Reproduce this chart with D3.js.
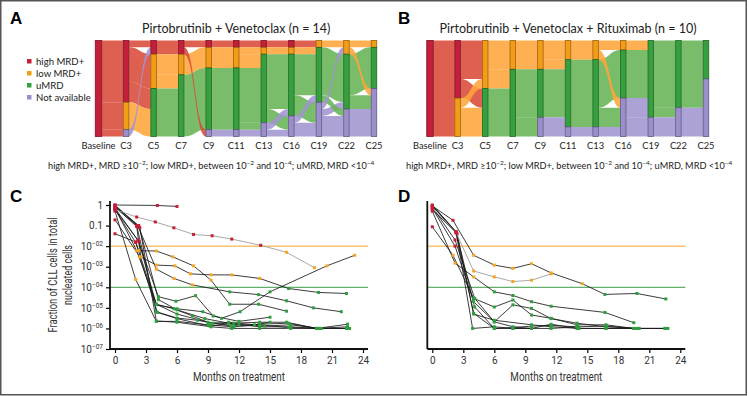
<!DOCTYPE html>
<html>
<head>
<meta charset="utf-8">
<script src="https://cdn.jsdelivr.net/npm/d3@7"></script>
<style>
  body { margin: 0; background: #fff; }
  svg { display: block; }
</style>
</head>
<body>
<script>
const width = 749, height = 396;

// ---- sankey data ----
const states = ['high MRD+', 'low MRD+', 'uMRD', 'Not available'];
const nodeColors = ['#c41e3a', '#f39c16', '#36a03e', '#9a8fcb'];
const flowColors = ['#d94a38', '#ffa53a', '#67b354', '#a195d0'];
const timepoints = ['Baseline', 'C3', 'C5', 'C7', 'C9', 'C11', 'C13', 'C16', 'C19', 'C22', 'C25'];

// transitions between consecutive timepoints: [from state, to state, patients]
const flowsA = [
  [[0, 0, 9], [0, 1, 4], [0, 3, 1]],
  [[0, 0, 1], [0, 1, 5], [0, 2, 3], [1, 2, 4], [3, 0, 1]],
  [[0, 0, 2], [1, 1, 3], [1, 2, 2], [2, 2, 7]],
  [[0, 0, 1], [0, 3, 1], [1, 1, 3], [2, 2, 9]],
  [[0, 0, 1], [1, 1, 3], [2, 2, 9], [3, 3, 1]],
  [[0, 0, 1], [1, 1, 1], [1, 2, 2], [2, 2, 8], [2, 3, 1], [3, 3, 1]],
  [[0, 0, 1], [1, 1, 1], [2, 2, 8], [2, 3, 2], [3, 2, 1], [3, 3, 1]],
  [[0, 1, 1], [1, 2, 1], [2, 2, 6], [2, 3, 3], [3, 2, 1], [3, 3, 2]],
  [[1, 1, 1], [2, 2, 7], [2, 3, 1], [3, 1, 1], [3, 2, 1], [3, 3, 3]],
  [[1, 1, 1], [1, 3, 1], [2, 2, 6], [2, 3, 2], [3, 3, 4]]
];
const flowsB = [
  [[0, 0, 6], [0, 1, 4]],
  [[0, 1, 4], [0, 2, 2], [1, 1, 1], [1, 2, 3]],
  [[1, 1, 3], [1, 2, 2], [2, 2, 5]],
  [[1, 1, 3], [2, 2, 5], [2, 3, 2]],
  [[1, 1, 2], [1, 2, 1], [2, 2, 5], [3, 2, 1], [3, 3, 1]],
  [[1, 1, 2], [2, 2, 7], [3, 3, 1]],
  [[1, 1, 1], [1, 3, 1], [2, 2, 5], [2, 3, 2], [3, 3, 1]],
  [[1, 2, 1], [2, 2, 5], [3, 2, 2], [3, 3, 2]],
  [[2, 2, 7], [2, 3, 1], [3, 3, 2]],
  [[2, 2, 4], [2, 3, 3], [3, 3, 3]]
];

// ---- MRD kinetics data: [month, fraction of CLL cells] per patient ----
const monthTicks = [0, 3, 6, 9, 12, 15, 18, 21, 24];
const mrdTicks = [1, 1e-1, 1e-2, 1e-3, 1e-4, 1e-5, 1e-6, 1e-7];
const thresholds = [1e-2, 1e-4];

const patientsC = [
  [[0, 1], [4.1, 0.95], [6, 0.85]],
  [[0, 0.6], [2.1, 0.26], [3.9, 0.15], [5.7, 0.078], [7.6, 0.037], [9.4, 0.032], [11.3, 0.022], [14.1, 0.011], [16.6, 0.005], [19.3, 0.0009]],
  [[0, 0.04], [2, 0.016], [2.3, 0.006], [4, 0.0058], [5.6, 0.003], [7.6, 0.0011], [9.3, 0.00022], [11.1, 1.5e-5], [13.9, 1.5e-5], [16.6, 6.9e-6]],
  [[0, 0.8], [2.1, 0.09], [2.5, 0.003], [4, 0.0012], [5.8, 0.0011], [7.3, 0.00045], [9.3, 0.0004], [11.3, 0.0004], [14, 0.00027], [16.8, 8.7e-5], [19.7, 5.6e-5], [22.4, 5e-5]],
  [[0, 0.5], [2, 0.00024], [4, 2.2e-6], [6, 2.2e-6], [9, 1.5e-6], [11.5, 1.2e-6], [14, 1.5e-6], [16.8, 1.1e-6], [19.5, 1e-6], [22.5, 1e-6]],
  [[0, 0.9], [2.2, 0.1], [4, 0.00076], [5.7, 0.00027], [7.5, 0.00013], [11.1, 6e-5], [13.9, 4.4e-5], [16.6, 2.2e-5], [19.2, 1e-5], [21.9, 6.5e-6]],
  [[0, 0.7], [2.3, 0.017], [4, 1.4e-5], [6, 9e-6], [8.5, 6.5e-6], [10.3, 3.1e-6], [12.1, 6.5e-6], [15, 6e-5], [20.5, 0.0011], [23.2, 0.0036]],
  [[0, 0.6], [2.2, 0.02], [4.2, 3.5e-5], [5.9, 2.1e-5], [7.8, 3.9e-5], [9.5, 4e-6], [12, 2.2e-6], [15, 3.5e-6]],
  [[0, 0.8], [2.1, 0.1], [4, 6.5e-6], [6, 3.2e-6], [8, 2.5e-6], [9.5, 1.8e-6], [11.2, 1.3e-6], [14, 1.6e-6], [16.8, 1.8e-6], [19.5, 1e-6], [22.5, 1.6e-6]],
  [[0, 1], [2.4, 0.08], [4, 2.3e-6], [6, 2e-6], [9.3, 1.2e-6], [11.3, 1e-6], [14, 1e-6], [17, 1e-6], [20, 1e-6], [22.7, 1e-6]],
  [[0, 0.6], [2, 0.015], [4, 1.5e-5], [5.7, 9e-6], [7.5, 4e-6], [9.3, 1.7e-6], [11, 2e-6], [13.5, 1.5e-6], [15, 2e-6]],
  [[0, 0.9], [2.3, 0.1], [4.2, 2.5e-5], [6, 8e-6], [8.7, 3e-6], [11, 1.8e-6], [14, 1.2e-6], [17, 1.2e-6], [19.7, 1e-6], [22.4, 1e-6]],
  [[0, 0.7], [2.1, 0.006], [4, 1.5e-5], [6, 5e-6], [9, 2e-6], [12, 1.5e-6], [14.5, 1.3e-6], [17, 1.5e-6], [19.8, 1e-6]],
  [[0, 0.19], [2.4, 0.003], [4.1, 6e-6], [6, 3e-6], [9.2, 1.3e-6], [11.5, 1.8e-6], [14, 2e-6], [16.6, 2e-6], [19.5, 1e-6], [22.5, 1.2e-6]]
];
const grayC = [1];

const patientsD = [
  [[0, 0.9], [2, 0.18], [4, 0.0036], [6, 0.0012], [7.8, 0.00083], [9.6, 0.0014], [11.5, 0.0005], [14.5, 0.00015], [16.7, 4.5e-5], [19.8, 5e-5], [22.6, 2.7e-5]],
  [[0, 0.7], [2.3, 0.045], [4, 0.00062], [6, 0.00032], [7.8, 0.00019], [9.6, 0.00022], [11.5, 0.00045]],
  [[0, 0.5], [2.2, 0.0015], [4, 0.00032], [6, 6e-5], [7.8, 4e-5], [9.6, 2e-5], [11.5, 1.2e-5], [16.7, 6e-6], [19.5, 1.9e-6]],
  [[0, 0.087], [2, 0.0036], [4, 2.9e-5], [6, 1.1e-5], [7.8, 2.4e-5], [9.6, 4.5e-6], [11.5, 3.1e-6], [14, 1.5e-6], [16.8, 1.5e-6], [19.5, 1e-6]],
  [[0, 0.6], [2.3, 0.045], [4, 5.4e-6], [6, 1e-6], [7.8, 1e-6], [9.6, 1e-6], [11.5, 1.6e-6], [14, 1e-6], [16.8, 1e-6], [20, 1e-6], [22.8, 1e-6]],
  [[0, 1], [2.3, 0.05], [3.9, 1e-6], [6, 1.2e-6], [7.8, 1e-6], [9.6, 1e-6], [11.5, 1e-6], [14.1, 1.2e-6], [16.8, 1.3e-6], [19.5, 1e-6], [22.5, 1e-6]],
  [[0, 0.8], [2.2, 0.02], [4.1, 2.9e-5], [6, 2.1e-6], [7.8, 1.4e-5], [9.6, 9.4e-6], [11.5, 3e-6], [14, 1.8e-6], [16.8, 1.2e-6], [20, 1e-6]],
  [[0, 0.9], [2.4, 0.04], [4, 5e-6], [6, 2.5e-6], [9.6, 1.5e-6], [11.5, 1.2e-6], [14.2, 1e-6], [16.8, 1e-6], [19.8, 1e-6], [22.6, 1e-6]],
  [[0, 0.7], [2.2, 0.01], [4, 2e-5], [6, 2.1e-6], [7.8, 1.2e-6], [9.6, 1e-6]],
  [[0, 0.95], [2.3, 0.05], [4.1, 1.1e-5], [6, 1e-6], [7.8, 1.1e-6], [9.6, 1.3e-6], [11.5, 1.4e-6], [14, 1.2e-6]]
];
const grayD = [1];

const sansFont = 'Lato, "Open Sans", sans-serif';
const narrowFont = 'Roboto, "Liberation Sans", sans-serif';

const svg = d3.select('body').append('svg')
  .attr('width', width).attr('height', height)
  .style('font-family', sansFont);

svg.append('rect')
  .attr('x', 0.75).attr('y', 0.75)
  .attr('width', width - 3.5).attr('height', height - 2)
  .attr('fill', 'none').attr('stroke', '#555').attr('stroke-width', 1.5);

// panel letters
[['A', 10, 24], ['B', 398, 24], ['C', 10, 202], ['D', 398, 202]].forEach(([t, x, y]) => {
  svg.append('text').attr('x', x).attr('y', y)
    .attr('font-size', 17).attr('font-weight', 'bold')
    .attr('font-family', '"Liberation Sans", Arial, sans-serif')
    .text(t);
});

function sankey(flows, n, x0, x1, title) {
  const g = svg.append('g');
  const x = d3.scalePoint().domain(timepoints).range([x0, x1]);
  const y = d3.scaleLinear().domain([0, n]).range([40.5, 136.5]);

  // patients per state at each timepoint
  const counts = timepoints.map(() => [0, 0, 0, 0]);
  flows.forEach((step, i) => step.forEach(([a, b, v]) => {
    counts[i + 1][b] += v;
    if (i === 0) counts[0][a] += v;
  }));
  const starts = counts.map(c => {
    let s = 0;
    return c.map(v => { const r = s; s += v; return r; });
  });

  const links = [];
  flows.forEach((step, i) => {
    const ls = step.map(([a, b, v]) => ({ i, a, b, v }));
    const outOff = starts[i].slice(), inOff = starts[i + 1].slice();
    ls.slice().sort((p, q) => p.a - q.a || p.b - q.b).forEach(l => { l.s0 = outOff[l.a]; outOff[l.a] += l.v; });
    ls.slice().sort((p, q) => p.b - q.b || p.a - q.a).forEach(l => { l.t0 = inOff[l.b]; inOff[l.b] += l.v; });
    ls.forEach(l => links.push(l));
  });

  const nw = t => t === 0 ? 6.5 : 5.5;
  const linkPath = l => {
    const xa = x(timepoints[l.i]) + nw(l.i) / 2;
    const xb = x(timepoints[l.i + 1]) - nw(l.i + 1) / 2;
    const xm = (xa + xb) / 2;
    const ya0 = y(l.s0), ya1 = y(l.s0 + l.v);
    const yb0 = y(l.t0), yb1 = y(l.t0 + l.v);
    return `M${xa},${ya0}C${xm},${ya0} ${xm},${yb0} ${xb},${yb0}` +
      `L${xb},${yb1}C${xm},${yb1} ${xm},${ya1} ${xa},${ya1}Z`;
  };

  links.sort((p, q) => Math.abs(p.s0 - p.t0) - Math.abs(q.s0 - q.t0));
  g.append('g').selectAll('path').data(links).join('path')
    .attr('d', linkPath)
    .attr('fill', d => flowColors[d.a])
    .attr('fill-opacity', 0.88);

  timepoints.forEach((t, ti) => {
    counts[ti].forEach((c, s) => {
      if (!c) return;
      g.append('rect')
        .attr('x', x(t) - nw(ti) / 2)
        .attr('y', y(starts[ti][s]))
        .attr('width', nw(ti))
        .attr('height', y(c) - y(0))
        .attr('fill', nodeColors[s])
        .attr('stroke', d3.color(nodeColors[s]).darker(1.3))
        .attr('stroke-width', 0.8);
    });
  });

  g.append('g').selectAll('text').data(timepoints).join('text')
    .attr('x', d => x(d)).attr('y', 148.5)
    .attr('text-anchor', 'middle').attr('font-size', 9.3).attr('fill', '#222')
    .text(d => d);

  g.append('text')
    .attr('x', (x0 + x1) / 2).attr('y', 33)
    .attr('text-anchor', 'middle').attr('font-size', 12.5).attr('fill', '#222')
    .text(title);
}

function footnote(xs) {
  const t = svg.append('text').attr('x', xs).attr('y', 168.5)
    .attr('font-size', 9.2).attr('fill', '#222');
  const sup = s => t.append('tspan').attr('dy', -4).attr('font-size', 6.5).text(s);
  const norm = s => t.append('tspan').attr('dy', 4).text(s);
  t.append('tspan').text('high MRD+, MRD \u226510');
  sup('\u22122'); norm('; low MRD+, between 10');
  sup('\u22122'); norm(' and 10');
  sup('\u22124'); norm('; uMRD, MRD <10');
  sup('\u22124');
}

sankey(flowsA, 14, 98.5, 374, 'Pirtobrutinib + Venetoclax (n = 14)');
sankey(flowsB, 10, 430, 706, 'Pirtobrutinib + Venetoclax + Rituximab (n = 10)');
footnote(48);
footnote(406);

// legend
const legend = svg.append('g');
states.forEach((s, i) => {
  legend.append('rect').attr('x', 27).attr('y', 59 + i * 12)
    .attr('width', 4.5).attr('height', 4.5).attr('fill', nodeColors[i]);
  legend.append('text').attr('x', 36).attr('y', 64.8 + i * 12)
    .attr('font-size', 9.6).attr('fill', '#222').text(s);
});

const mrdColor = v => v >= 1e-2 ? '#c41e3a' : v >= 1e-4 ? '#f5a623' : '#2e9e3e';

function kinetics(patients, grays, ax, showY) {
  const g = svg.append('g').style('font-family', narrowFont);
  const x = d3.scaleLinear().domain([0, 24]).range([ax + 5, ax + 253]);
  const y = d3.scaleLog().domain([1e-7, 1]).range([349, 205]);

  thresholds.forEach((v, i) => {
    g.append('line').attr('x1', ax).attr('x2', ax + 258)
      .attr('y1', y(v)).attr('y2', y(v))
      .attr('stroke', i === 0 ? '#f5a623' : '#3a9a44').attr('stroke-width', 1);
  });

  g.append('g').attr('transform', 'translate(0,349)')
    .call(d3.axisBottom(x).tickValues(monthTicks).tickSize(4).tickPadding(4))
    .call(a => a.select('.domain').remove())
    .call(a => a.selectAll('.tick line').attr('stroke-width', 1.2))
    .call(a => a.selectAll('.tick text').attr('font-size', 10).attr('fill', '#333').attr('font-family', narrowFont));

  if (showY) {
    g.append('g').attr('transform', `translate(${ax},0)`)
      .call(d3.axisLeft(y).tickValues(mrdTicks).tickSize(4).tickPadding(3))
      .call(a => a.select('.domain').remove())
      .call(a => a.selectAll('.tick line').attr('stroke-width', 1.2))
      .call(a => a.selectAll('.tick text').each(function (d) {
        const t = d3.select(this).text(null)
          .attr('font-size', 10).attr('fill', '#333').attr('font-family', narrowFont);
        if (d >= 0.1) { t.text(d === 1 ? '1' : '0.1'); return; }
        t.append('tspan').text('10');
        t.append('tspan').attr('dy', -4).attr('font-size', 6.5)
          .text('\u22120' + Math.round(-Math.log10(d)));
      }));
  }

  g.append('line').attr('x1', ax).attr('x2', ax + 258).attr('y1', 349).attr('y2', 349)
    .attr('stroke', '#111').attr('stroke-width', 1.8);
  g.append('line').attr('x1', ax).attr('x2', ax).attr('y1', 201).attr('y2', 349)
    .attr('stroke', '#111').attr('stroke-width', 1.8);

  const line = d3.line().x(d => x(d[0])).y(d => y(d[1]));
  const order = d3.range(patients.length).sort((a, b) => grays.includes(a) - grays.includes(b));
  order.forEach(i => {
    g.append('path').datum(patients[i])
      .attr('d', line).attr('fill', 'none')
      .attr('stroke', grays.includes(i) ? '#9a9a9a' : '#1a1a1a')
      .attr('stroke-width', 0.85);
  });
  patients.forEach(p => {
    g.append('g').selectAll('rect').data(p).join('rect')
      .attr('x', d => x(d[0]) - 1.5).attr('y', d => y(d[1]) - 1.5)
      .attr('width', 3).attr('height', 3)
      .attr('fill', d => mrdColor(d[1]));
  });

  g.append('text').attr('x', ax + 129).attr('y', 381)
    .attr('text-anchor', 'middle').attr('font-size', 12).attr('fill', '#333')
    .attr('textLength', 92).attr('lengthAdjust', 'spacingAndGlyphs')
    .text('Months on treatment');
}

kinetics(patientsC, grayC, 110, true);
kinetics(patientsD, grayD, 427.3, false);

svg.append('text')
  .attr('transform', 'translate(57,275) rotate(-90)')
  .attr('text-anchor', 'middle').attr('font-size', 12).attr('fill', '#333')
  .attr('font-family', narrowFont)
  .call(t => {
    t.append('tspan').attr('x', 0).attr('dy', 0)
      .attr('textLength', 115).attr('lengthAdjust', 'spacingAndGlyphs')
      .text('Fraction of CLL cells in total');
    t.append('tspan').attr('x', 0).attr('dy', 15)
      .attr('textLength', 60).attr('lengthAdjust', 'spacingAndGlyphs')
      .text('nucleated cells');
  });
</script>
</body>
</html>
